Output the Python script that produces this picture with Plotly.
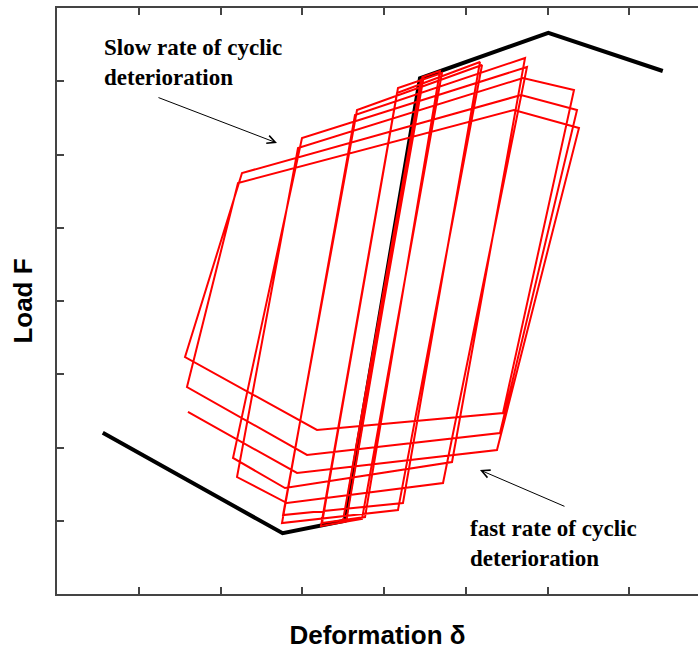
import plotly.graph_objects as go

# Backbone (monotonic envelope) : deformation / load
backbone_def = [-3.44, -1.24, -0.48, 0.44, 2.01, 3.41]
backbone_load = [-1.80, -3.17, -3.00, 3.04, 3.66, 3.14]

# Hysteretic response, read per amplitude group
grp1_def = [0.000, 0.485, -0.505, 0.455, -0.460, 0.470]
grp1_load = [0.000, 3.058, -3.017, 3.031, -2.990, 3.058]

grp2_def = [0.685, -0.232, -0.758, 0.171, 0.709, -0.269, -0.771, 0.159]
grp2_load = [3.140, -2.949, -3.031, 2.908, 3.113, -2.976, -3.072, 2.840]

grp3_def = [1.174, 0.232, -1.235, -0.330, 1.199, 0.171, -1.248, -0.355]
grp3_load = [3.263, -2.758, -2.922, 2.608, 3.222, -2.853, -3.031, 2.539]

grp4_def = [1.725, 0.832, -1.211, -1.847, -1.003, 1.749, 0.722, -1.187, -1.798, -1.052]
grp4_load = [3.317, -2.198, -2.553, -2.143, 2.225, 3.195, -2.485, -2.758, -2.403, 2.089]

grp5_def = [1.700, 2.324, 1.456, -0.820, -2.434, -1.737, 1.676, 2.361, 1.419,
            -0.942, -2.410, -1.786, 1.590, 2.385, 1.382, -1.064, -2.398]
grp5_load = [3.044, 2.881, -1.529, -1.761, -0.765, 1.747, 2.812, 2.608, -1.802,
             -2.102, -1.174, 1.611, 2.608, 2.362, -2.034, -2.348, -1.515]

tick_vals = [-3, -2, -1, 0, 1, 2, 3]

hyst_def = grp1_def + grp2_def + grp3_def + grp4_def + grp5_def
hyst_load = grp1_load + grp2_load + grp3_load + grp4_load + grp5_load

fig = go.Figure()
fig.add_trace(go.Scatter(x=backbone_def, y=backbone_load, mode="lines",
                         line=dict(color="black", width=4), hoverinfo="skip"))
fig.add_trace(go.Scatter(x=hyst_def, y=hyst_load, mode="lines",
                         line=dict(color="#ff0000", width=2), hoverinfo="skip"))

txt_font = dict(family="Times New Roman, Liberation Serif, serif", size=23, color="black")
fig.add_annotation(x=-3.45, y=3.256, xref="x", yref="y", xanchor="left", yanchor="middle",
                   text="<b>Slow rate of cyclic<br>deterioration</b>", showarrow=False,
                   align="left", font=txt_font)
fig.add_annotation(x=1.028, y=-3.304, xref="x", yref="y", xanchor="left", yanchor="middle",
                   text="<b>fast rate of cyclic<br>deterioration</b>", showarrow=False,
                   align="left", font=txt_font)
fig.add_annotation(x=-1.309, y=2.157, ax=-2.777, ay=2.785, xref="x", yref="y",
                   axref="x", ayref="y", text="", showarrow=True, arrowhead=5,
                   arrowsize=1.6, arrowwidth=1, arrowcolor="black")
fig.add_annotation(x=1.174, y=-2.307, ax=2.226, ay=-2.812, xref="x", yref="y",
                   axref="x", ayref="y", text="", showarrow=True, arrowhead=5,
                   arrowsize=1.6, arrowwidth=1, arrowcolor="black")

axis_common = dict(showgrid=False, zeroline=False, showline=True, linecolor="#444444",
                   linewidth=2, ticks="inside", ticklen=7, tickwidth=1.5,
                   tickcolor="#444444", tickvals=tick_vals, showticklabels=False)

title_font = dict(family="Arial, Liberation Sans, sans-serif", size=26, color="black")

fig.update_layout(
    width=698, height=652,
    margin=dict(l=57, r=0, t=8, b=58, autoexpand=False),
    paper_bgcolor="white", plot_bgcolor="white",
    showlegend=False,
    xaxis=dict(range=[-4, 3.841], mirror="ticks", automargin=True,
               title=dict(text="<b>Deformation δ</b>", font=title_font, standoff=31),
               **axis_common),
    yaxis=dict(range=[-4, 4], mirror=False,
               title=dict(text="<b>Load F</b>", font=title_font),
               **axis_common),
)

fig.write_html("out.html")
